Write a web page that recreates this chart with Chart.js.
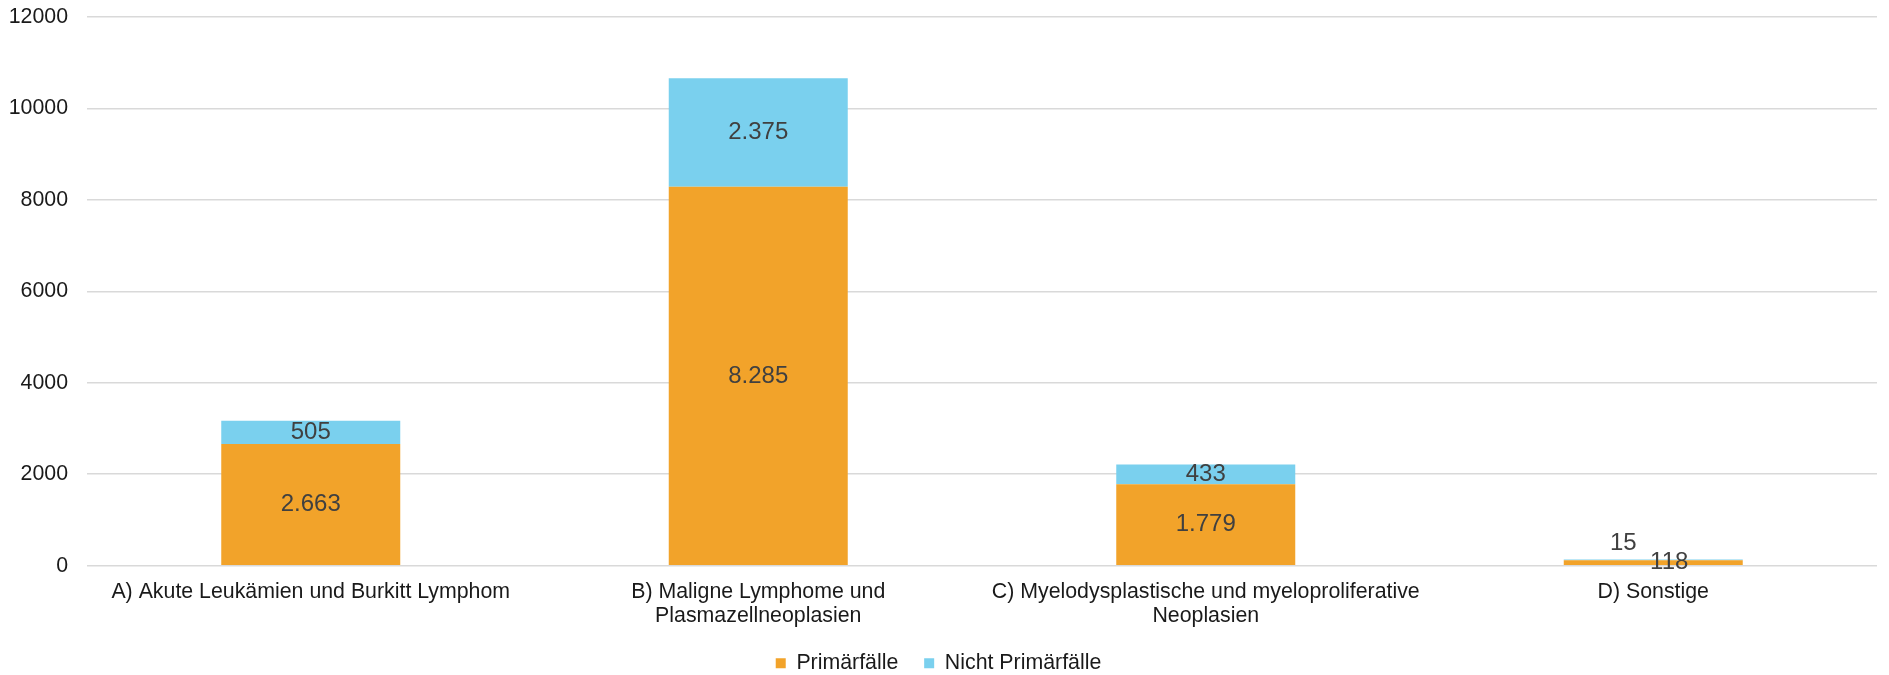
<!DOCTYPE html>
<html>
<head>
<meta charset="utf-8">
<script src="https://cdn.jsdelivr.net/npm/chart.js@4/dist/chart.umd.min.js"></script>
<style>
  html, body { margin: 0; padding: 0; background: #fff; }
  #wrap { width: 1889px; height: 675px; }
</style>
</head>
<body>
<div id="wrap"><canvas id="falleChart"></canvas></div>
<script>
// Kategorien (mehrzeilige Beschriftungen als Arrays)
const categories = [
    'A) Akute Leukämien und Burkitt Lymphom',
    ['B) Maligne Lymphome und', 'Plasmazellneoplasien'],
    ['C) Myelodysplastische und myeloproliferative', 'Neoplasien'],
    'D) Sonstige'
];
const primaerfaelle = [2663, 8285, 1779, 118];
const nichtPrimaerfaelle = [505, 2375, 433, 15];
const yTicks = [0, 2000, 4000, 6000, 8000, 10000, 12000];

const FONT = '"Liberation Sans", Arial, sans-serif';

// Zahlen mit Tausenderpunkt, wie im Original
function fmt(v) {
    return String(v).replace(/\B(?=(\d{3})+(?!\d))/g, '.');
}

// eigene Datenbeschriftung (kein datalabels-Plugin verfuegbar)
const valueLabels = {
    id: 'valueLabels',
    afterDatasetsDraw(chart) {
        const ctx = chart.ctx;
        ctx.save();
        ctx.font = '24px ' + FONT;
        ctx.fillStyle = '#404040';
        ctx.textAlign = 'center';
        ctx.textBaseline = 'middle';
        chart.data.datasets.forEach((ds, di) => {
            const meta = chart.getDatasetMeta(di);
            meta.data.forEach((bar, i) => {
                const p = bar.getProps(['x', 'y', 'base'], true);
                const h = Math.abs(p.base - p.y);
                let x = p.x, y = (p.y + p.base) / 2;
                // zu kleine Segmente: Beschriftung ausweichen lassen
                if (h < 14) {
                    if (di === 1) { y = p.y - 16; x = p.x - 30; }
                    else { x = p.x + 16; }
                }
                ctx.fillText(fmt(ds.data[i]), x, y);
            });
        });
        ctx.restore();
    }
};

const ctx = document.getElementById('falleChart').getContext('2d');

const falleChart = new Chart(ctx, {
    type: 'bar',
    data: {
        labels: categories,
        datasets: [{
            label: 'Primärfälle',
            data: primaerfaelle,
            backgroundColor: '#F2A32A',
            barPercentage: 0.8,
            categoryPercentage: 0.5
        }, {
            label: 'Nicht Primärfälle',
            data: nichtPrimaerfaelle,
            backgroundColor: '#7AD0EE',
            barPercentage: 0.8,
            categoryPercentage: 0.5
        }]
    },
    options: {
        responsive: true,
        maintainAspectRatio: false,
        animation: false,
        layout: { padding: { top: 17, right: 12, bottom: -9, left: 0 } },
        plugins: {
            tooltip: { enabled: false },
            legend: {
                position: 'bottom',
                labels: {
                    font: { family: FONT, size: 21.33 },
                    color: '#1a1a1a',
                    boxWidth: 10,
                    boxHeight: 10,
                    padding: 14,
                    generateLabels(chart) {
                        const items = Chart.defaults.plugins.legend.labels.generateLabels(chart);
                        // etwas mehr Abstand zwischen den Eintraegen
                        items.forEach((it, i) => {
                            if (i < items.length - 1) it.text = it.text + '  ';
                        });
                        return items;
                    }
                }
            }
        },
        scales: {
            x: {
                stacked: true,
                afterFit(scale) { scale.height = 73; },
                grid: { display: false, drawTicks: false },
                border: { display: false },
                ticks: {
                    font: { family: FONT, size: 21.33, lineHeight: 1.125 },
                    color: '#1a1a1a',
                    padding: 14,
                    maxRotation: 0,
                    autoSkip: false
                }
            },
            y: {
                stacked: true,
                min: 0,
                max: 12000,
                afterBuildTicks(scale) {
                    scale.ticks = yTicks.map(v => ({ value: v }));
                },
                afterFit(scale) {
                    scale.width = 87;
                    scale.paddingTop = 0;
                    scale.paddingBottom = 0;
                },
                grid: { color: '#d9d9d9', lineWidth: 1.5, drawTicks: false },
                border: { display: false },
                ticks: {
                    font: { family: FONT, size: 21.33 },
                    color: '#1a1a1a',
                    padding: 19,
                    callback: v => String(v)
                }
            }
        }
    },
    plugins: [valueLabels]
});
</script>
</body>
</html>
